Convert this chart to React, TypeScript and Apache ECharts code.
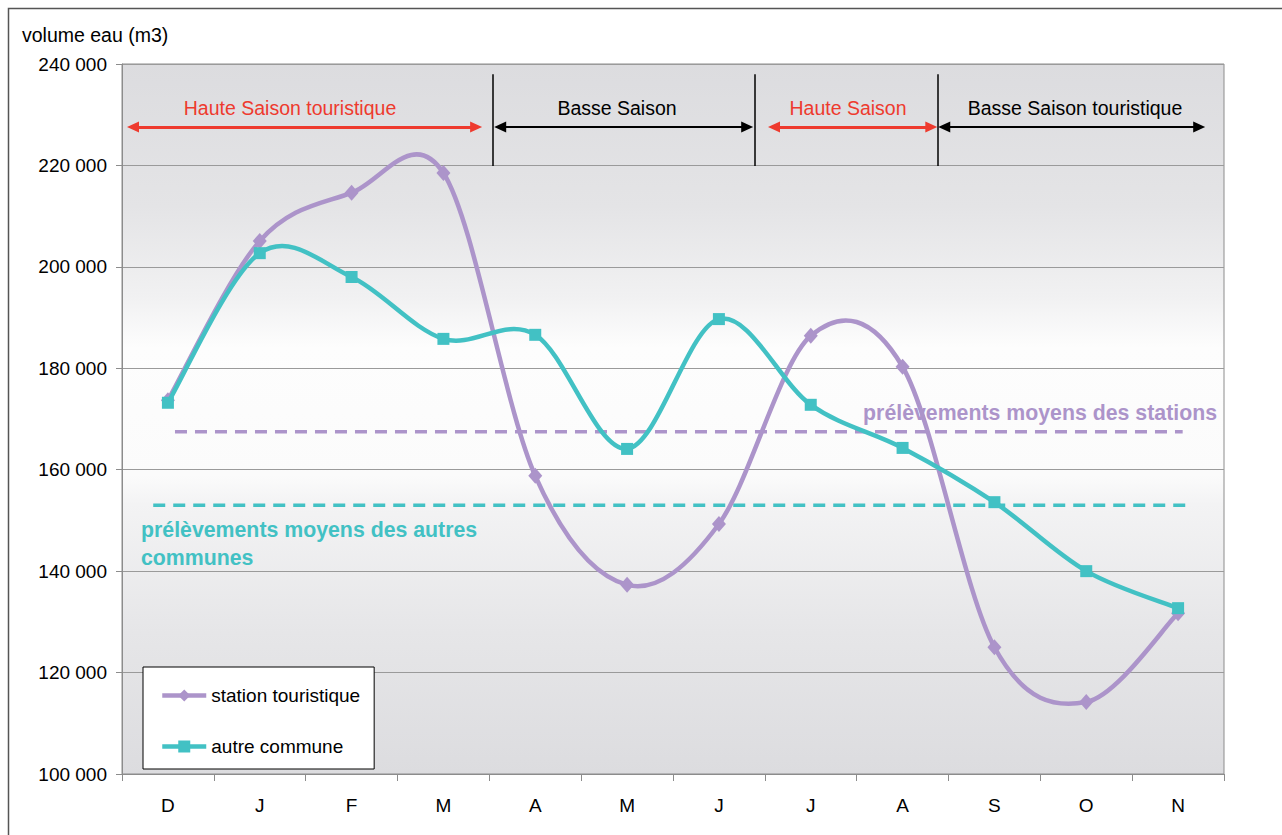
import React, { useEffect, useRef } from "react";
import * as echarts from "echarts";

const categories = ["D", "J", "F", "M", "A", "M", "J", "J", "A", "S", "O", "N"];
const stationValues = [173700, 205100, 214600, 218500, 158800, 137300, 149300, 186400, 180300, 125000, 114200, 131700];
const autreValues = [173200, 202700, 198000, 185800, 186600, 164100, 189700, 172800, 164300, 153600, 140000, 132700];
const yTicks = { min: 100000, max: 240000, interval: 20000 };
const avgStation = 167500;
const avgAutre = 153000;
// season annotations on a continuous month scale (category index)
const seasonArrows = [
  { from: -0.38, to: 3.356, color: "#EE3A2E", width: 3 },
  { from: 3.618, to: 6.308, color: "#000000", width: 2 },
  { from: 6.6, to: 8.313, color: "#EE3A2E", width: 3 },
  { from: 8.454, to: 11.23, color: "#000000", width: 2 },
];
const seasonLabels = [
  { text: "Haute Saison touristique", x: 290, color: "#EE3A2E" },
  { text: "Basse Saison", x: 617, color: "#000000" },
  { text: "Haute Saison", x: 848, color: "#EE3A2E" },
  { text: "Basse Saison touristique", x: 1075, color: "#000000" },
];
const arrowLevel = 227600;
const separators = [3.54, 6.395, 8.378];
const separatorRange = [219900, 238000];
const avgStationSpan = [0.077, 11.05];
const avgAutreSpan = [-0.16, 11.11];

const PURPLE = "#AC94CA";
const TEAL = "#42C1C4";
const FONT = "'Liberation Sans', Arial, sans-serif";
const LINE_W = 4.5;

function curveSeries(name: string, values: number[], color: string, z: number) {
  return {
    name,
    type: "custom",
    z,
    silent: true,
    data: values.map((v, i) => [i, v]),
    encode: { x: 0, y: 1 },
    renderItem: (params: any, api: any) => {
      if (params.dataIndex !== 0) return undefined;
      const pts = values.map((v, i) => api.coord([i, v]));
      const n = pts.length;
      let d = `M${pts[0][0]},${pts[0][1]}`;
      for (let i = 0; i < n - 1; i++) {
        const p0 = pts[i - 1] || pts[i];
        const p1 = pts[i];
        const p2 = pts[i + 1];
        const p3 = pts[i + 2] || pts[i + 1];
        const c1x = p1[0] + (p2[0] - p0[0]) / 6;
        const c1y = p1[1] + (p2[1] - p0[1]) / 6;
        const c2x = p2[0] - (p3[0] - p1[0]) / 6;
        const c2y = p2[1] - (p3[1] - p1[1]) / 6;
        d += ` C${c1x},${c1y} ${c2x},${c2y} ${p2[0]},${p2[1]}`;
      }
      return {
        type: "path",
        shape: { pathData: d },
        style: { fill: "none", stroke: color, lineWidth: LINE_W, lineJoin: "round", lineCap: "round" },
      };
    },
  };
}

export default function App() {
  const ref = useRef<HTMLDivElement>(null);
  useEffect(() => {
    if (!ref.current) return;
    const chart = echarts.init(ref.current, undefined, { renderer: "svg" });
    const fmt = (v: number) => {
      const s = String(v);
      return s.length > 3 ? s.slice(0, s.length - 3) + " " + s.slice(-3) : s;
    };
    const option: any = {
      animation: false,
      textStyle: { fontFamily: FONT },
      grid: {
        left: 122,
        right: 58,
        top: 64,
        bottom: 61,
        show: true,
        borderColor: "#8c8c8c",
        borderWidth: 1,
        backgroundColor: new echarts.graphic.LinearGradient(0, 0, 0, 1, [
          { offset: 0, color: "#dcdcdf" },
          { offset: 0.2, color: "#e4e4e6" },
          { offset: 0.33, color: "#f1f1f2" },
          { offset: 0.4, color: "#fdfdfd" },
          { offset: 0.58, color: "#fbfbfb" },
          { offset: 0.62, color: "#f3f3f4" },
          { offset: 0.8, color: "#e6e6e8" },
          { offset: 1, color: "#dcdcdf" },
        ]),
      },
      legend: {
        left: 143,
        top: 667,
        orient: "vertical",
        backgroundColor: "#ffffff",
        borderColor: "#000000",
        borderWidth: 1,
        padding: [19, 14, 13, 17],
        itemGap: 32,
        itemWidth: 44,
        itemHeight: 15,
        textStyle: { fontSize: 19, color: "#000", fontFamily: FONT },
        data: [
          { name: "station touristique", lineStyle: { color: PURPLE, width: LINE_W, opacity: 1 } },
          { name: "autre commune", lineStyle: { color: TEAL, width: LINE_W, opacity: 1 } },
        ],
      },
      xAxis: [
        {
          type: "category",
          data: categories,
          boundaryGap: true,
          axisLine: { lineStyle: { color: "#8c8c8c", width: 1 } },
          axisTick: { show: true, length: 7, lineStyle: { color: "#8c8c8c" } },
          axisLabel: { fontSize: 19, color: "#000", margin: 22, fontFamily: FONT },
        },
        { type: "value", min: -0.5, max: 11.5, show: false },
      ],
      yAxis: {
        type: "value",
        min: yTicks.min,
        max: yTicks.max,
        interval: yTicks.interval,
        axisLine: { show: true, onZero: false, lineStyle: { color: "#8c8c8c" } },
        axisTick: { show: true, length: 6, lineStyle: { color: "#8c8c8c" } },
        axisLabel: { fontSize: 19, color: "#000", margin: 15, formatter: fmt, fontFamily: FONT },
        splitLine: { show: true, lineStyle: { color: "#9a9a9a", width: 1 } },
      },
      series: [
        {
          name: "avgStation",
          type: "line",
          xAxisIndex: 1,
          z: 1,
          data: [[avgStationSpan[0], avgStation], [avgStationSpan[1], avgStation]],
          symbol: "none",
          lineStyle: { color: PURPLE, width: 3.5, type: [12, 8] },
          silent: true,
        },
        {
          name: "avgAutre",
          type: "line",
          xAxisIndex: 1,
          z: 1,
          data: [[avgAutreSpan[0], avgAutre], [avgAutreSpan[1], avgAutre]],
          symbol: "none",
          lineStyle: { color: TEAL, width: 3.5, type: [12, 8] },
          silent: true,
        },
        {
          name: "annotations",
          type: "line",
          xAxisIndex: 1,
          data: [],
          markLine: {
            silent: true,
            animation: false,
            label: { show: false },
            data: [
              ...seasonArrows.map((a) => [
                {
                  coord: [a.from, arrowLevel],
                  symbol: "triangle",
                  symbolSize: [11, 12],
                  lineStyle: { color: a.color, width: a.width, type: "solid" },
                },
                { coord: [a.to, arrowLevel], symbol: "triangle", symbolSize: [11, 12] },
              ]),
              ...separators.map((x) => [
                {
                  coord: [x, separatorRange[0]],
                  symbol: "none",
                  lineStyle: { color: "#000", width: 1.5, type: "solid" },
                },
                { coord: [x, separatorRange[1]], symbol: "none" },
              ]),
            ],
          },
        },
        curveSeries("stationCurve", stationValues, PURPLE, 2),
        {
          name: "station touristique",
          type: "line",
          z: 3,
          data: stationValues,
          symbol: "diamond",
          symbolSize: [14, 16],
          showAllSymbol: true,
          lineStyle: { color: PURPLE, width: LINE_W, opacity: 0 },
          itemStyle: { color: PURPLE },
        },
        curveSeries("autreCurve", autreValues, TEAL, 4),
        {
          name: "autre commune",
          type: "line",
          z: 5,
          data: autreValues,
          symbol: "rect",
          symbolSize: 12,
          showAllSymbol: true,
          lineStyle: { color: TEAL, width: LINE_W, opacity: 0 },
          itemStyle: { color: TEAL },
        },
      ],
      graphic: [
        {
          type: "polyline",
          shape: { points: [[8.5, 840], [8.5, 8.5], [1290, 8.5]] },
          style: { stroke: "#555555", lineWidth: 1.5, fill: "none" },
          silent: true,
        },
        {
          type: "text",
          left: 22,
          top: 25,
          style: { text: "volume eau (m3)", fontSize: 19.5, fill: "#000", fontFamily: FONT },
        },
        ...seasonLabels.map((l) => ({
          type: "text",
          x: l.x,
          y: 108,
          z: 10,
          style: {
            text: l.text,
            fontSize: 19.5,
            fill: l.color,
            fontFamily: FONT,
            align: "center",
            verticalAlign: "middle",
          },
        })),
        {
          type: "text",
          x: 1217,
          y: 413,
          style: {
            text: "prélèvements moyens des stations",
            fontSize: 21.3,
            fontWeight: "bold",
            fill: PURPLE,
            fontFamily: FONT,
            align: "right",
            verticalAlign: "middle",
          },
          z: 10,
        },
        {
          type: "text",
          x: 141,
          y: 516,
          style: {
            text: "prélèvements moyens des autres\ncommunes",
            fontSize: 21.3,
            fontWeight: "bold",
            fill: TEAL,
            fontFamily: FONT,
            lineHeight: 28,
            align: "left",
            verticalAlign: "top",
          },
          z: 10,
        },
      ],
    };
    chart.setOption(option);
    return () => chart.dispose();
  }, []);
  return (
    <div
      ref={ref}
      style={{ position: "fixed", left: 0, top: 0, width: 1282, height: 835, background: "#ffffff" }}
    />
  );
}
